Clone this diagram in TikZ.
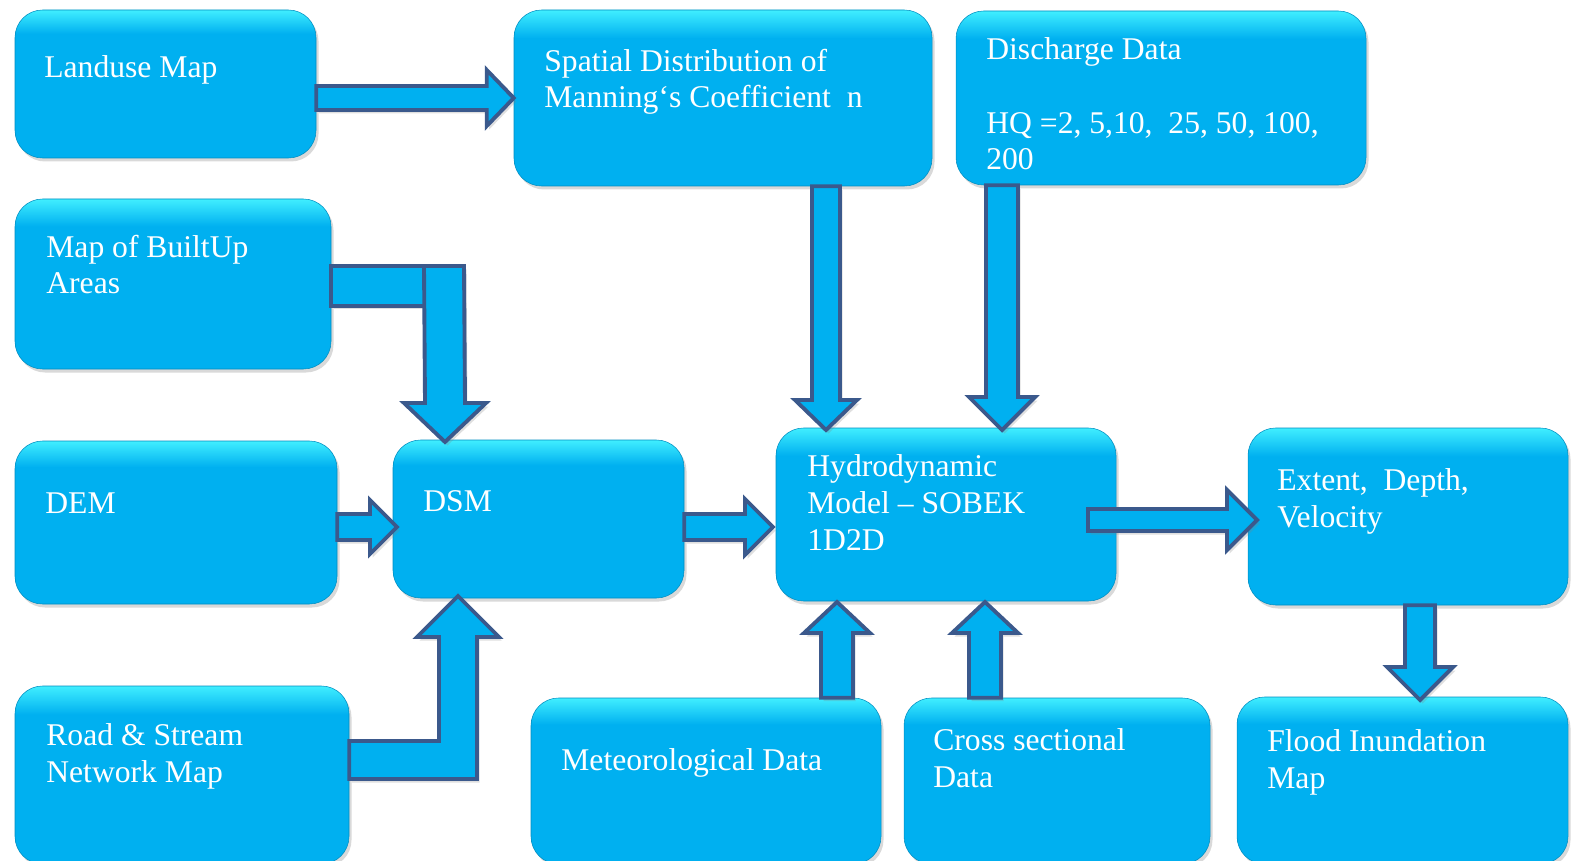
\documentclass[tikz,border=0pt]{standalone}
\usepackage{fontspec}
\setmainfont{Liberation Serif}
\usetikzlibrary{calc,positioning,fit,shadows}

\definecolor{boxblue}{RGB}{0,176,240}
\definecolor{boxtop}{RGB}{64,238,255}
\definecolor{arredge}{RGB}{59,89,140}

\pgfdeclareverticalshading{boxshade}{100bp}{color(0bp)=(boxblue); color(25bp)=(boxblue); color(67bp)=(boxblue); color(75bp)=(boxtop); color(100bp)=(boxtop)}

\tikzset{
  box/.style={rounded corners=0.55cm, shading=boxshade, draw=boxblue!80!black, line width=0.3pt,
    inner sep=0pt, drop shadow={opacity=0.3, shadow xshift=0.05cm, shadow yshift=-0.07cm}},
  % base west = baseline of the last line
  txt/.style={text=white, font=\fontsize{18}{21}\selectfont, align=left, anchor=base west, inner sep=0pt},
  blk/.style={fill=boxblue, draw=arredge, line width=2.2pt, line join=miter,
    drop shadow={opacity=0.25, shadow xshift=0.05cm, shadow yshift=-0.07cm}}
}

% block arrows: start, tip, shaft half width, head half width, head length
\newcommand\rblk[5]{\draw[blk] ($(#1)+(0,-#3)$) -- ($(#2)+(-#5,-#3)$) -- ($(#2)+(-#5,-#4)$) -- (#2)
  -- ($(#2)+(-#5,#4)$) -- ($(#2)+(-#5,#3)$) -- ($(#1)+(0,#3)$) -- cycle;}
\newcommand\dblk[5]{\draw[blk] ($(#1)+(-#3,0)$) -- ($(#2)+(-#3,-#5)$) -- ($(#2)+(-#4,-#5)$) -- (#2)
  -- ($(#2)+(#4,-#5)$) -- ($(#2)+(#3,-#5)$) -- ($(#1)+(#3,0)$) -- cycle;}
\newcommand\ublk[5]{\draw[blk] ($(#1)+(-#3,0)$) -- ($(#2)+(-#3,#5)$) -- ($(#2)+(-#4,#5)$) -- (#2)
  -- ($(#2)+(#4,#5)$) -- ($(#2)+(#3,#5)$) -- ($(#1)+(#3,0)$) -- cycle;}

\begin{document}
\begin{tikzpicture}[x=0.02cm,y=-0.02cm]
\useasboundingbox (0,0) rectangle (1571,861);
% boxes
\node[box,fit={(15,10)(316,158)}](land){};
\node[box,fit={(514,10)(932,186)}](spat){};
\node[box,fit={(956,11)(1366,185)}](disch){};
\node[box,fit={(15,199)(331,369)}](built){};
\node[box,fit={(15,441)(337,604)}](dem){};
\node[box,fit={(393,440)(684,598)}](dsm){};
\node[box,fit={(776,428)(1116,601)}](hydro){};
\node[box,fit={(1248,428)(1568,605)}](extent){};
\node[box,fit={(15,686)(349,864)}](road){};
\node[box,fit={(531,698)(881,864)}](met){};
\node[box,fit={(904,698)(1210,864)}](cross){};
\node[box,fit={(1237,697)(1568,864)}](flood){};
% texts
\node[txt](landT) at (44,78){Landuse Map};
\node[txt](spatT) at (544,108){Spatial Distribution of\\Manning‘s Coefficient\ \ n};
\node[txt](dischT) at (986,170){Discharge Data\\\mbox{}\\HQ =2, 5,10,\ \ 25, 50, 100,\\200};
\node[txt](builtT) at (46,294){Map of BuiltUp\\Areas};
\node[txt](demT) at (45,513){DEM};
\node[txt](dsmT) at (423,511){DSM};
\node[txt](hydroT) at (807,550){Hydrodynamic\\Model – SOBEK\\1D2D};
\node[txt](extentT) at (1277,527){Extent,\ \ Depth,\\Velocity};
\node[txt](roadT) at (46,782){Road \& Stream\\Network Map};
\node[txt](metT) at (561,770){Meteorological Data};
\node[txt](crossT) at (933,787){Cross sectional\\Data};
\node[txt](floodT) at (1267,788){Flood Inundation\\Map};
% arrows
\rblk{land.east |- spat.west}{spat.west}{12}{28}{27}
\coordinate (dsmin) at (397,527);
\rblk{dem.east |- dsmin}{dsmin}{13}{27}{27}
\coordinate (hyin) at (773,527);
\rblk{dsm.east |- hyin}{hyin}{13}{28}{28}
\coordinate (exin) at (1257,520);
\rblk{1088,520}{exin}{11}{30}{30}
\coordinate (g1) at (826,430);
\dblk{g1 |- spat.south}{g1}{14}{31}{30}
\coordinate (h1) at (1002,430);
\dblk{h1 |- disch.south}{h1}{16}{33}{33}
\coordinate (i1) at (837,602);
\ublk{i1 |- met.north}{i1}{16}{33}{31}
\coordinate (j1) at (985,602);
\ublk{j1 |- cross.north}{j1}{16}{33}{31}
\coordinate (k1) at (1420,700);
\dblk{k1 |- extent.south}{k1}{15}{33}{33}
% bent arrows into DSM
\draw[blk] (built.east |- 0,266) rectangle (444,306);
\coordinate (b1) at (445,442);
\dblk{444,266}{b1}{20}{41}{39}
\coordinate (c1) at (458,596);
\draw[blk] (road.east |- 0,741) -- (439,741) -- (439,637) -- (417,637) -- (c1) -- (499,637)
  -- (477,637) -- (477,779) -- (road.east |- 0,779) -- cycle;
\end{tikzpicture}
\end{document}
